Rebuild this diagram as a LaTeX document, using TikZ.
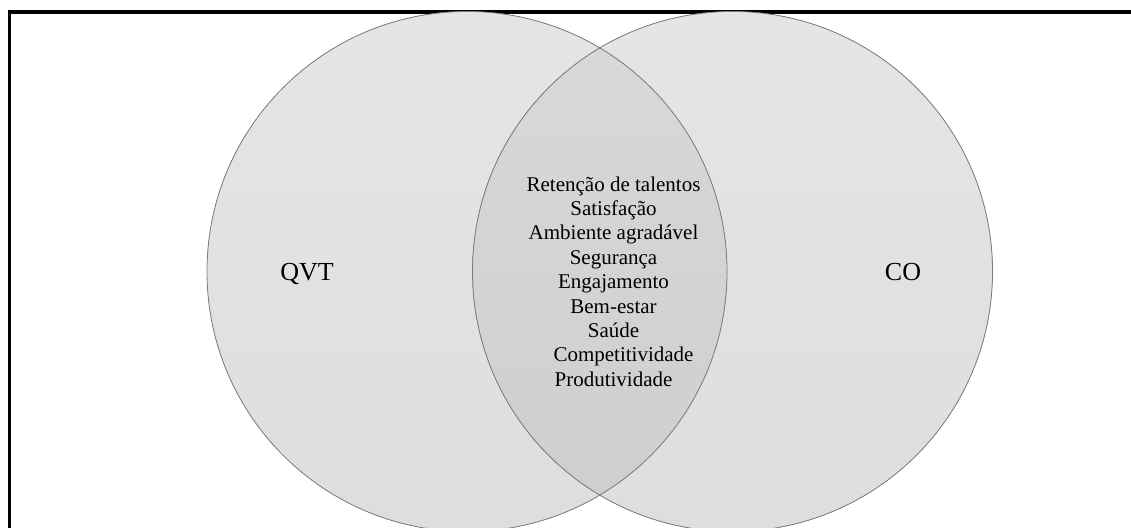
\documentclass[tikz,border=0pt]{standalone}
\usepackage{fontspec}
\setmainfont{Liberation Serif}
\usetikzlibrary{positioning}
\definecolor{circtop}{RGB}{229,229,229}
\definecolor{circbot}{RGB}{222,222,222}
\definecolor{lenstop}{RGB}{217,217,217}
\definecolor{lensbot}{RGB}{206,206,206}
\definecolor{circline}{RGB}{125,125,125}
\tikzset{set circle/.style={circle,draw=circline,line width=0.8pt,minimum size=520pt,inner sep=0pt},
	set label/.style={font=\fontsize{26}{30}\selectfont},
	list text/.style={align=center,font=\fontsize{21}{24.4}\selectfont},
}

\begin{document}
\begin{tikzpicture}[x=1pt,y=1pt]
	\useasboundingbox (0,0) rectangle (1131,527);
	\clip (0,0) rectangle (1131,527);
	\draw[line width=3.5pt] (9.5,-20) rectangle (1150,515);
	
	% fills of the two sets and their overlap
	\fill[top color=circtop,bottom color=circbot] (467,255.5) circle (260);
	\fill[top color=circtop,bottom color=circbot] (732.5,255.5) circle (260);
	\begin{scope}
		\clip (467,255.5) circle (260);
		\fill[top color=lenstop,bottom color=lensbot] (732.5,255.5) circle (260);
	\end{scope}
	
	\node[set circle] (qvt) at (467,255.5) {};
	\node[set circle] (co) at (732.5,255.5) {};
	\node[set label,anchor=base] (qvt label) at (307,246) {QVT};
	\node[set label,anchor=base] (co label) at (903,246) {CO};
	\node[list text] (common) at (613.5,245.5) {Retenção de talentos\\
		Satisfação\\
		Ambiente agradável\\
		Segurança\\
		Engajamento\\
		Bem-estar\\
		Saúde\\
		\hspace*{20pt}Competitividade\\
		Produtividade};
\end{tikzpicture}
\end{document}
